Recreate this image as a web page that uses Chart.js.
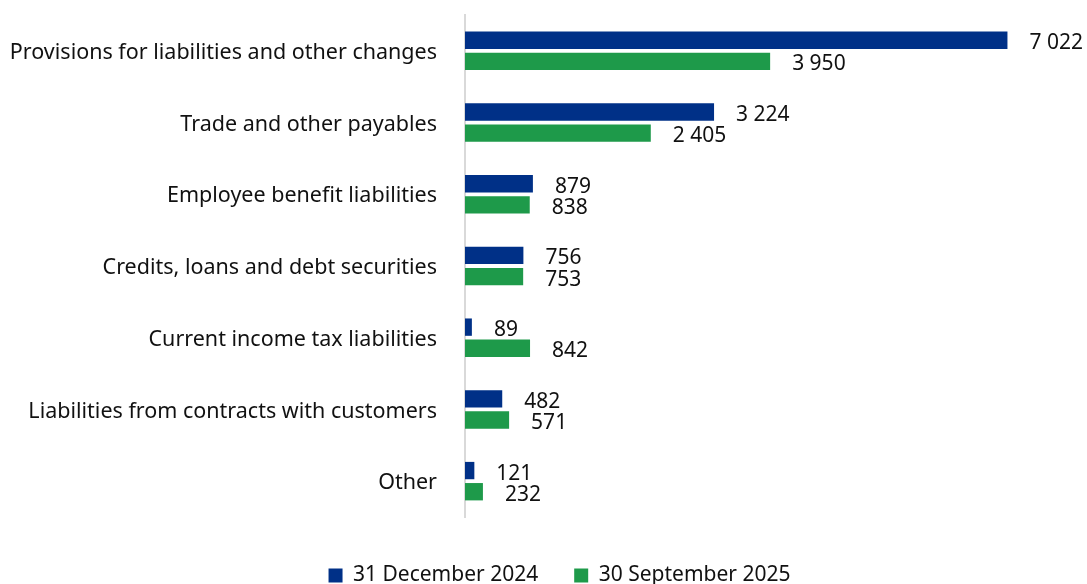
<!DOCTYPE html>
<html>
<head>
<meta charset="utf-8">
<script src="https://cdn.jsdelivr.net/npm/chart.js@4"></script>
<style>
  html, body { margin: 0; padding: 0; background: #fff; }
  #wrap { width: 1087px; height: 584px; position: relative; }
</style>
</head>
<body>
<div id="wrap"><canvas id="chart"></canvas></div>
<script>
const categories = [
  "Provisions for liabilities and other changes",
  "Trade and other payables",
  "Employee benefit liabilities",
  "Credits, loans and debt securities",
  "Current income tax liabilities",
  "Liabilities from contracts with customers",
  "Other"
];
const dec2024 = [7022, 3224, 879, 756, 89, 482, 121];
const sep2025 = [3950, 2405, 838, 753, 842, 571, 232];
const seriesNames = ["31 December 2024", "30 September 2025"];

const FONT = "'Noto Sans', sans-serif";
const BLUE = "#003087";
const GREEN = "#1e9a4a";

// thousands separated by a space: 7022 -> "7 022"
function fmt(v) {
  return String(v).replace(/\B(?=(\d{3})+(?!\d))/g, " ");
}

// value labels just past the end of each bar
const valueLabels = {
  id: "valueLabels",
  afterDatasetsDraw(c) {
    const ctx = c.ctx;
    ctx.save();
    ctx.font = "21px " + FONT;
    ctx.fillStyle = "#111";
    ctx.textAlign = "left";
    ctx.textBaseline = "middle";
    c.data.datasets.forEach((ds, i) => {
      c.getDatasetMeta(i).data.forEach((bar, j) => {
        ctx.fillText(fmt(ds.data[j]), bar.x + 22, bar.y + 3);
      });
    });
    ctx.restore();
  }
};

// nudge the legend a bit lower and to the right of centre
const legendShift = {
  id: "legendShift",
  afterLayout(c) {
    const lg = c.legend;
    lg.top += 12;
    lg.bottom += 12;
    lg.left += 18;
    lg.right += 18;
  }
};

new Chart(document.getElementById("chart"), {
  type: "bar",
  data: {
    labels: categories,
    datasets: [
      { label: seriesNames[0], data: dec2024, backgroundColor: BLUE },
      { label: seriesNames[1], data: sep2025, backgroundColor: GREEN }
    ]
  },
  options: {
    indexAxis: "y",
    responsive: true,
    maintainAspectRatio: false,
    animation: false,
    categoryPercentage: 0.59,
    barPercentage: 0.82,
    layout: { padding: { top: 15, right: 4, bottom: 0, left: 0 } },
    plugins: {
      tooltip: { enabled: false },
      legend: {
        position: "bottom",
        labels: {
          font: { family: FONT, size: 21 },
          color: "#111",
          boxWidth: 14,
          boxHeight: 14,
          padding: 36
        }
      }
    },
    scales: {
      x: {
        display: false,
        min: 0,
        max: 8000
      },
      y: {
        grid: { display: false, drawTicks: false },
        border: { display: true, color: "#d9d9d9", width: 2 },
        ticks: {
          font: { family: FONT, size: 21.5 },
          color: "#111",
          padding: 28,
          labelOffset: 2
        },
        // fixed label column; tick padding should not shrink the plot height
        afterFit(scale) {
          scale.width = 465;
          scale.paddingTop = 0;
          scale.paddingBottom = 0;
        }
      }
    }
  },
  plugins: [valueLabels, legendShift]
});
</script>
</body>
</html>
